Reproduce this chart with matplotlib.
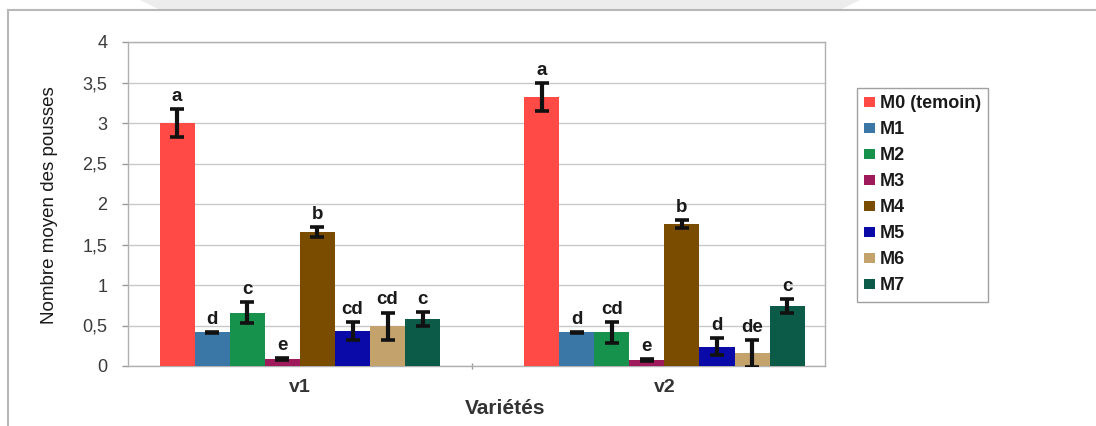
import matplotlib
matplotlib.use("Agg")
import matplotlib.pyplot as plt
from matplotlib.patches import Polygon
from matplotlib.lines import Line2D
import numpy as np

varietes = ["v1", "v2"]
traitements = ["M0 (temoin)", "M1", "M2", "M3", "M4", "M5", "M6", "M7"]
v1_values = [3.00, 0.415, 0.66, 0.085, 1.65, 0.435, 0.49, 0.58]
v2_values = [3.32, 0.415, 0.415, 0.075, 1.75, 0.24, 0.155, 0.74]
v1_errors = [0.17, 0.01, 0.13, 0.01, 0.06, 0.11, 0.17, 0.09]
v2_errors = [0.17, 0.01, 0.13, 0.01, 0.05, 0.11, 0.17, 0.09]
v1_letters = ["a", "d", "c", "e", "b", "cd", "cd", "c"]
v2_letters = ["a", "d", "cd", "e", "b", "d", "de", "c"]
colors = ["#FF4A45", "#3A77A6", "#16924C", "#9E1A5A", "#7A4C00",
          "#0A0AA8", "#C3A26B", "#0B5B48"]

W, H = 1096, 426
FAM = ["Liberation Sans", "DejaVu Sans"]
fig = plt.figure(figsize=(W / 100, H / 100), dpi=100)
fig.patch.set_facecolor("white")

# top watermark band and frame
band = Polygon([[140 / W, 1], [860 / W, 1], [840 / W, 1 - 10 / H], [160 / W, 1 - 10 / H]],
               closed=True, transform=fig.transFigure, facecolor="#ececec",
               edgecolor="none", zorder=0)
fig.patches.append(band)
fig.add_artist(Line2D([8 / W, 1], [1 - 10 / H, 1 - 10 / H], transform=fig.transFigure,
                      color="#b8b8b8", lw=1.5))
fig.add_artist(Line2D([8 / W, 8 / W], [0, 1 - 10 / H], transform=fig.transFigure,
                      color="#b8b8b8", lw=1.5))

ax = fig.add_axes([128 / W, 1 - 366 / H, (825 - 128) / W, (366 - 42) / H])

group_centers = [0.0, 1.06]
width = 0.102
n = len(traitements)
values = [v1_values, v2_values]
errors = [v1_errors, v2_errors]
letters = [v1_letters, v2_letters]

for i in range(n):
    xs = [group_centers[g] + (i - (n - 1) / 2) * width for g in range(2)]
    ys = [values[g][i] for g in range(2)]
    es = [errors[g][i] for g in range(2)]
    ax.bar(xs, ys, width=width, color=colors[i], label=traitements[i], zorder=3,
           edgecolor="none")
    ax.errorbar(xs, ys, yerr=es, fmt="none", ecolor="#111111", elinewidth=3,
                capsize=5, capthick=2.6, zorder=4)
    for g in range(2):
        ax.text(xs[g], ys[g] + es[g] + 0.05, letters[g][i], ha="center", va="bottom",
                fontsize=13.5, fontweight="bold", color="#1a1a1a",
                family=FAM, zorder=5)

ax.set_xlim(-0.5, 1.527)
ax.set_ylim(0, 4)
ticks = np.arange(0, 4.01, 0.5)
ax.set_yticks(ticks)
ax.set_yticklabels([("%g" % v).replace(".", ",") for v in ticks],
                   fontsize=13, color="#3a3a3a", family=FAM)
ax.yaxis.grid(True, color="#c8c8c8", lw=1, zorder=0)
ax.set_axisbelow(True)
ax.tick_params(axis="y", length=4, color="#999999", width=1, pad=11)

ax.set_xticks([0.5])
ax.set_xticklabels([""])
ax.tick_params(axis="x", length=4, direction="inout", color="#999999", width=1)
for g, name in enumerate(varietes):
    ax.text(group_centers[g], -0.27, name, ha="center", va="center", fontsize=14,
            fontweight="bold", color="#333333", family=FAM,
            transform=ax.transData, clip_on=False)

for side in ["left", "right", "top", "bottom"]:
    ax.spines[side].set_color("#b0b0b0")
    ax.spines[side].set_linewidth(1)

fig.text(505 / W, 1 - 408 / H, "Variétés", ha="center", va="center", fontsize=15,
         fontweight="bold", color="#333333", family=FAM)
fig.text(50 / W, 1 - 205 / H, "Nombre moyen des pousses", ha="center", va="center",
         rotation=90, fontsize=13.5, color="#1a1a1a",
         family=["Liberation Sans Narrow", "Liberation Sans", "DejaVu Sans"])

leg = fig.legend(loc="upper left", bbox_to_anchor=(857 / W, 1 - 88 / H),
                 bbox_transform=fig.transFigure, frameon=True, fancybox=False,
                 handlelength=0.6, handleheight=0.45, handletextpad=0.25,
                 labelspacing=0.5, borderpad=0.4, borderaxespad=0,
                 prop={"family": FAM, "weight": "bold", "size": 13})
leg.get_frame().set_edgecolor("#888888")
leg.get_frame().set_linewidth(1)
for t in leg.get_texts():
    t.set_color("#1a1a1a")

fig.savefig("out.png", dpi=100)
